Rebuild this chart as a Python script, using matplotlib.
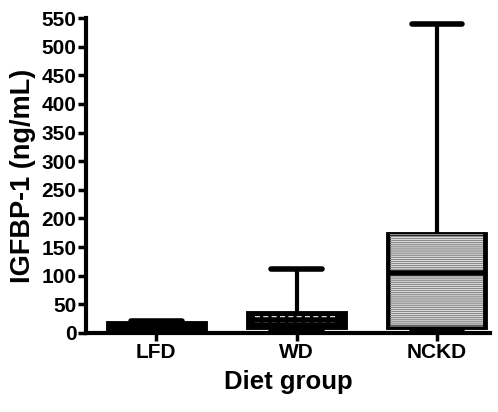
import numpy as np
import matplotlib
matplotlib.use("Agg")
import matplotlib.pyplot as plt

plt.rcParams['font.family'] = ['Liberation Sans', 'DejaVu Sans']
plt.rcParams['font.weight'] = 'bold'

groups = ["LFD", "WD", "NCKD"]
lower = [2, 4, 3]
q1 = [5, 10, 10]
median = [12, 22, 105]
q3 = [17, 35, 173]
upper = [21, 112, 540]


def main():
    fig = plt.figure(figsize=(4.98, 4.12), dpi=100)
    ax = fig.add_axes([0.173, 0.192, 0.811, 0.764])

    pos = np.arange(1, len(groups) + 1)
    box_w = 0.69
    cap_w = 0.36

    # whiskers and caps
    ax.vlines(pos, lower, upper, color="black", lw=3, zorder=1)
    ax.hlines(upper, pos - cap_w / 2, pos + cap_w / 2, color="black", lw=4,
              capstyle="round", zorder=1)
    ax.hlines(lower, pos - cap_w / 2, pos + cap_w / 2, color="black", lw=4,
              capstyle="round", zorder=1)

    heights = np.array(q3) - np.array(q1)
    faces = ["black", "black", "white"]
    ax.bar(pos, heights, bottom=q1, width=box_w, color=faces,
           edgecolor="black", linewidth=3.5, zorder=2)

    # NCKD: grey horizontal lines
    ax.bar(pos[2], heights[2], bottom=q1[2], width=box_w * 0.96,
           color="none", edgecolor="#8a8a8a", linewidth=0,
           hatch="--------", zorder=3)
    # WD: white dashed lines
    for frac in (0.38, 0.68):
        y = q1[1] + heights[1] * frac
        ax.hlines(y, pos[1] - box_w / 2 + 0.05, pos[1] + box_w / 2 - 0.05,
                  color="white", lw=1.2, linestyles=(0, (3, 2)), zorder=3)

    # medians
    ax.hlines(median, pos - box_w / 2, pos + box_w / 2, color="black",
              lw=4, zorder=4)

    ax.set_xlim(0.5, 3.38)
    ax.set_ylim(0, 550)
    ax.set_yticks(np.arange(0, 551, 50))
    ax.set_xticks(pos)
    ax.set_xticklabels(groups)

    for side in ("top", "right"):
        ax.spines[side].set_visible(False)
    for side in ("left", "bottom"):
        ax.spines[side].set_linewidth(3)
    ax.spines["bottom"].set_zorder(5)

    ax.tick_params(axis="both", direction="out", length=6, width=2.5,
                   labelsize=15, pad=1)
    ax.set_ylabel("IGFBP-1 (ng/mL)", fontsize=19.5, fontweight="bold", labelpad=4)
    ax.set_xlabel("Diet group", fontsize=18.5, fontweight="bold", labelpad=6)

    fig.savefig("out.png", dpi=100)


if __name__ == "__main__":
    main()
